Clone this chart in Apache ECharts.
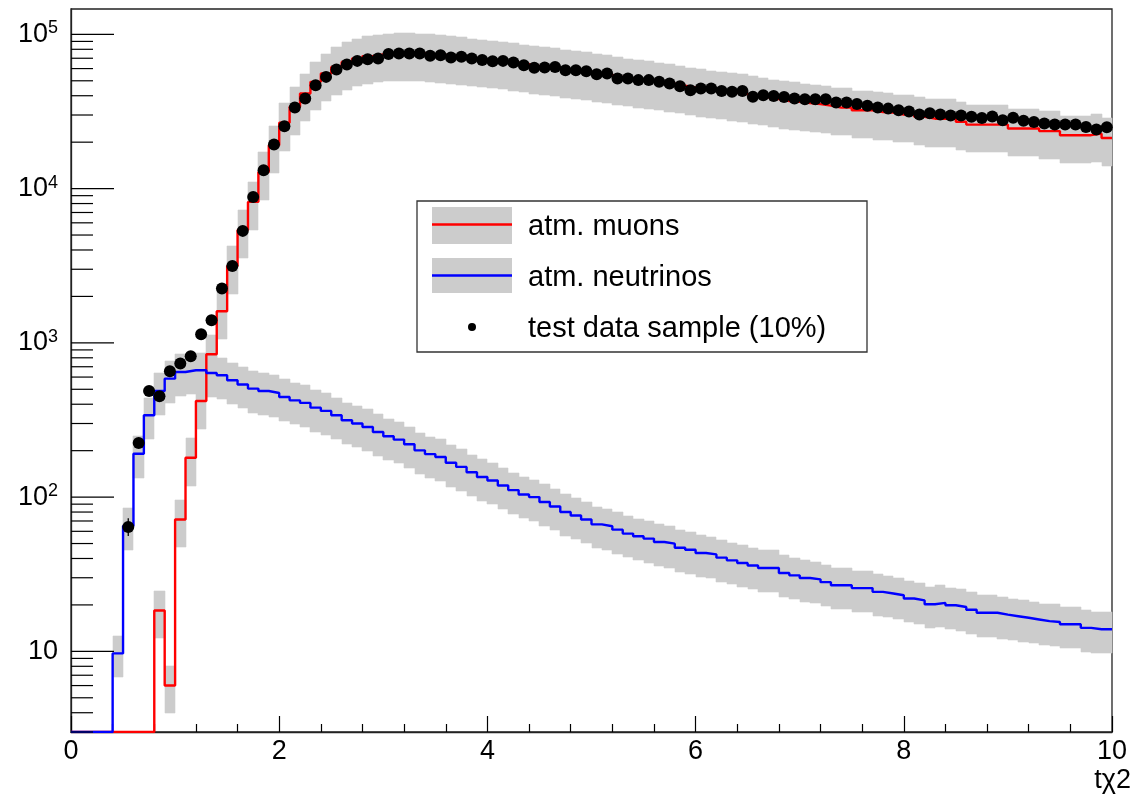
<!DOCTYPE html>
<html>
<head>
<meta charset="utf-8">
<script src="https://cdn.jsdelivr.net/npm/echarts@6/dist/echarts.min.js"></script>
<style>
html,body{margin:0;padding:0;background:#ffffff;}
#chart{width:1138px;height:796px;}
</style>
</head>
<body>
<div id="chart"></div>
<script>
// ---- axis definitions ----
const xMin = 0, xMax = 10, binWidth = 0.1;
const yMin = 3, yMax = 146000;
const xTickLabels = [0, 2, 4, 6, 8, 10];
const yMajorTicks = [10, 100, 1000, 10000, 100000];
const xAxisTitle = 'tχ2';

// ---- histogram contents, one value per 0.1-wide bin from 0 to 10 ----
const muons = [
  0, 0, 0, 0, 0, 0, 0, 0, 18.4, 6.0,
  71.5, 180, 420, 843, 1603, 3150, 5400, 8200, 12800, 19100,
  26700, 33900, 41400, 49200, 55700, 61500, 66300, 69800, 72300, 74100,
  75500, 76000, 76000, 75500, 74500, 73500, 72500, 71500, 70000, 69000,
  68000, 67000, 65500, 64000, 62500, 61500, 60500, 59000, 58000, 57000,
  55500, 54500, 53000, 52000, 50800, 49800, 48800, 47800, 46500, 45300,
  44300, 43500, 42600, 41800, 41000, 40000, 39000, 38000, 37000, 36500,
  35800, 35300, 34500, 33500, 33500, 32200, 32200, 31400, 31100, 30200,
  30200, 29200, 28400, 28400, 28400, 27100, 26000, 26000, 26000, 26000,
  24500, 24500, 24500, 23600, 23600, 22200, 22200, 22200, 22700, 21300
];
const neutrinos = [
  0, 0, 0, 0, 9.7, 65, 191, 339, 487, 586,
  647, 664, 664, 638, 617, 572, 537, 505, 487, 473,
  446, 424, 408, 380, 362, 339, 315, 300, 285, 264,
  248, 236, 220, 201, 190, 182, 167, 157, 145, 135,
  128, 119, 111, 104, 100, 93, 87, 80, 76, 71.5,
  66.6, 64.7, 61.5, 58, 55.7, 53.8, 51.2, 49.9, 47, 45.6,
  43.4, 42.5, 40.5, 38.9, 37.4, 36, 34.7, 34.7, 32.2, 31.1,
  29.9, 29.3, 28.1, 26.8, 26.8, 25.7, 25.7, 24.3, 23.7, 23.1,
  22, 21.4, 20.2, 20.6, 19.9, 19.4, 18.6, 17.8, 17.8, 17.3,
  16.9, 16.5, 16.1, 15.7, 15.5, 15.0, 15.0, 14.2, 13.9, 13.9
];
const testData = [
  null, null, null, null, null, 64, 224, 488, 451, 655,
  735, 818, 1137, 1400, 2250, 3150, 5320, 8830, 13150, 19300,
  25400, 33600, 38400, 46800, 53000, 59200, 63800, 67300, 69000, 69800,
  74500, 75100, 75100, 75100, 72600, 73300, 70800, 71500, 69800, 68100,
  67000, 67300, 65700, 63100, 60700, 61000, 61500, 58600, 58600, 57700,
  55200, 55700, 51700, 51700, 50500, 50500, 49200, 48000, 46100, 43400,
  44500, 44500, 43000, 42400, 43000, 39400, 40300, 39800, 39300, 38400,
  38000, 38000, 38000, 36200, 36200, 35300, 34400, 33500, 33000, 32200,
  31600, 30200, 30800, 30200, 29800, 29800, 29200, 28700, 29300, 27700,
  28800, 27500, 27000, 26400, 26000, 26000, 26000, 25100, 24200, 25000
];
// visible vertical error bars of the test data (low, high)
const testDataErrBars = [[5, 56, 73]];
// relative size of the grey uncertainty band
const muonRelErr = 0.34;
const neutrinoRelErr = 0.30;

const legendLabels = ['atm. muons', 'atm. neutrinos', 'test data sample (10%)'];

// ---- colours / fonts ----
const FONT = 'Liberation Sans, Arial, Helvetica, sans-serif';
const RED = '#ff0000', BLUE = '#0000ff', BAND = '#cccccc', FRAME = '#222222';

// ---- build series data ----
function stepPoints(arr) {
  const pts = arr.map((v, i) => [+(i * binWidth).toFixed(2), Math.max(v, yMin)]);
  pts.push([xMax, Math.max(arr[arr.length - 1], yMin)]);
  return pts;
}
function bandItems(arr) {
  return arr.map((v, i) => [+(i * binWidth).toFixed(2), v]);
}
const dataPoints = [];
testData.forEach((v, i) => { if (v != null) dataPoints.push([+((i + 0.5) * binWidth).toFixed(3), v]); });
const errItems = testDataErrBars.map(e => [+((e[0] + 0.5) * binWidth).toFixed(3), e[1], e[2]]);

const yTickItems = [];
for (let e = 0; e <= 5; e++) {
  for (let k = 1; k <= 9; k++) {
    const v = k * Math.pow(10, e);
    if (v >= yMin && v <= yMax) yTickItems.push([xMin, v, k === 1 ? 43 : 22]);
  }
}

function bandRender(relErr) {
  return function (params, api) {
    const x0 = api.value(0), v = api.value(1);
    if (!(v > 0)) return null;
    const a = api.coord([x0, v * (1 + relErr)]);
    const b = api.coord([x0 + binWidth, v * (1 - relErr)]);
    const cs = params.coordSys;
    const left = Math.round(a[0]), right = Math.round(b[0]);
    const top = Math.round(a[1]), bottom = Math.round(b[1]);
    const shape = echarts.graphic.clipRectByRect(
      { x: left, y: top, width: right - left, height: bottom - top },
      { x: cs.x, y: cs.y, width: cs.width, height: cs.height });
    if (!shape) return null;
    return { type: 'rect', shape: shape, style: { fill: BAND, stroke: BAND, lineWidth: 0.6 } };
  };
}

const chart = echarts.init(document.getElementById('chart'), null, { renderer: 'canvas' });

const gridLeft = 71, gridTop = 9, gridRight = 26, gridBottom = 64;

// legend drawn as graphic elements
const LX = 417, LY = 201, LW = 450, LH = 151;
const legendGraphic = [
  { type: 'rect', shape: { x: LX, y: LY, width: LW, height: LH }, style: { fill: '#ffffff', stroke: '#333333', lineWidth: 1.3 }, z: 100 },
  { type: 'rect', shape: { x: 432, y: 207, width: 80, height: 37 }, style: { fill: BAND }, z: 101 },
  { type: 'line', shape: { x1: 432, y1: 224.5, x2: 512, y2: 224.5 }, style: { stroke: RED, lineWidth: 2.4 }, z: 102 },
  { type: 'text', x: 528, y: 227, style: { text: legendLabels[0], font: '29px ' + FONT, fill: '#000', verticalAlign: 'middle' }, z: 102 },
  { type: 'rect', shape: { x: 432, y: 258, width: 80, height: 35 }, style: { fill: BAND }, z: 101 },
  { type: 'line', shape: { x1: 432, y1: 275.5, x2: 512, y2: 275.5 }, style: { stroke: BLUE, lineWidth: 2.4 }, z: 102 },
  { type: 'text', x: 528, y: 278, style: { text: legendLabels[1], font: '29px ' + FONT, fill: '#000', verticalAlign: 'middle' }, z: 102 },
  { type: 'circle', shape: { cx: 472, cy: 327, r: 4 }, style: { fill: '#000' }, z: 102 },
  { type: 'text', x: 528, y: 329, style: { text: legendLabels[2], font: '29px ' + FONT, fill: '#000', verticalAlign: 'middle' }, z: 102 },
  { type: 'text', x: 1131, y: 767, style: { text: xAxisTitle, font: '27px ' + FONT, fill: '#000', align: 'right', verticalAlign: 'top' }, z: 102 }
];

const option = {
  animation: false,
  backgroundColor: '#ffffff',
  grid: { left: gridLeft, top: gridTop, right: gridRight, bottom: gridBottom, show: true, borderColor: FRAME, borderWidth: 1.3, backgroundColor: 'transparent', containLabel: false },
  xAxis: {
    type: 'value', min: xMin, max: xMax, interval: 2,
    axisLine: { show: true, lineStyle: { color: FRAME, width: 1.3 } },
    axisTick: { show: true, inside: true, length: 16, lineStyle: { color: '#000', width: 1.2 } },
    minorTick: { show: true, splitNumber: 5, length: 8, lineStyle: { color: '#000', width: 1.2 } },
    splitLine: { show: false },
    axisLabel: { show: true, color: '#000', fontFamily: FONT, fontSize: 27, margin: 6,
      formatter: function (v) { return xTickLabels.indexOf(Math.round(v)) >= 0 && Math.abs(v - Math.round(v)) < 1e-6 ? String(Math.round(v)) : ''; } }
  },
  yAxis: {
    type: 'log', logBase: 10, min: yMin, max: yMax,
    axisLine: { show: true, lineStyle: { color: FRAME, width: 1.3 } },
    axisTick: { show: false },
    splitLine: { show: false },
    axisLabel: {
      show: true, color: '#000', fontFamily: FONT, margin: 13,
      formatter: function (v) {
        const l = Math.log10(v), e = Math.round(l);
        if (Math.abs(l - e) > 1e-6) return '';
        const base = Math.pow(10, e);
        if (yMajorTicks.indexOf(base) < 0) return '';
        if (e === 1) return '{b|10}';
        return '{b|10}{s|' + e + '}';
      },
      rich: {
        b: { fontFamily: FONT, fontSize: 27, lineHeight: 30, color: '#000' },
        s: { fontFamily: FONT, fontSize: 18, lineHeight: 20, verticalAlign: 'top', color: '#000' }
      }
    }
  },
  graphic: legendGraphic,
  series: [
    { type: 'custom', name: 'muonBand', renderItem: bandRender(muonRelErr), data: bandItems(muons), encode: { x: 0, y: 1 }, z: 1, silent: true },
    { type: 'custom', name: 'nuBand', renderItem: bandRender(neutrinoRelErr), data: bandItems(neutrinos), encode: { x: 0, y: 1 }, z: 1, silent: true },
    { type: 'line', name: legendLabels[0], data: stepPoints(muons), step: 'end', showSymbol: false, symbol: 'none',
      lineStyle: { color: RED, width: 2.4 }, z: 3, clip: true, silent: true },
    { type: 'line', name: legendLabels[1], data: stepPoints(neutrinos), step: 'end', showSymbol: false, symbol: 'none',
      lineStyle: { color: BLUE, width: 2.4 }, z: 4, clip: true, silent: true },
    { type: 'custom', name: 'dataErr', data: errItems, encode: { x: 0, y: 1 }, z: 5, silent: true,
      renderItem: function (params, api) {
        const a = api.coord([api.value(0), api.value(1)]);
        const b = api.coord([api.value(0), api.value(2)]);
        return { type: 'line', shape: { x1: a[0], y1: a[1], x2: b[0], y2: b[1] }, style: { stroke: '#000', lineWidth: 1.3 } };
      } },
    { type: 'scatter', name: legendLabels[2], data: dataPoints, symbol: 'circle', symbolSize: 12,
      itemStyle: { color: '#000', opacity: 1 }, z: 5, silent: true },
    { type: 'custom', name: 'yTicks', data: yTickItems, encode: { x: 0, y: 1 }, z: 6, silent: true,
      renderItem: function (params, api) {
        const p = api.coord([api.value(0), api.value(1)]);
        const len = api.value(2);
        return { type: 'line', shape: { x1: p[0], y1: p[1], x2: p[0] + len, y2: p[1] }, style: { stroke: '#000', lineWidth: 1.2 } };
      } }
  ]
};
chart.setOption(option);
</script>
</body>
</html>
